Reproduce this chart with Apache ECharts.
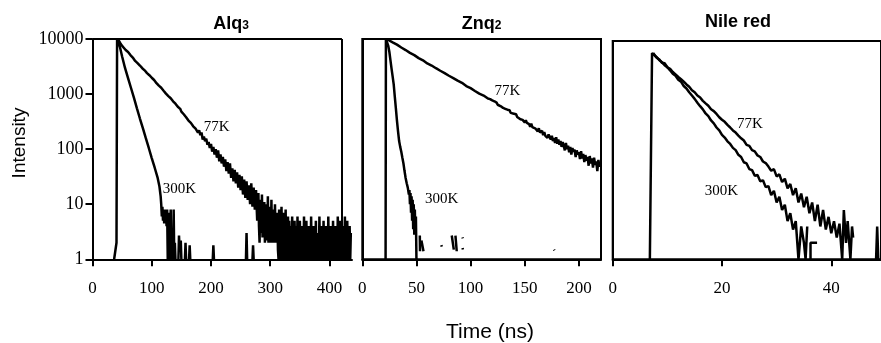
<!DOCTYPE html>
<html><head><meta charset="utf-8">
<script src="https://cdn.jsdelivr.net/npm/echarts@6/dist/echarts.min.js"></script>
<style>html,body{margin:0;padding:0;background:#fff}#c{width:881px;height:343px}</style>
</head><body><div id="c"></div>
<script>
// ---- tick labels ----
const yTicks = [1, 10, 100, 1000, 10000];
const alqTicks = [0, 100, 200, 300, 400];
const znqTicks = [0, 50, 100, 150, 200];
const nileTicks = [0, 20, 40];
const panelTitles = ['Alq', 'Znq', 'Nile red'];
const curveNames = ['77K', '300K'];

// ---- Alq3 ----
const alq300 = [[36.5,1],[40.5,2],[41.5,10000],[43,10000],[46,7400],[50,4800],[55,2950],[60,1950],[65,1290],[70,850],[75,550],[80,360],[85,240],[90,158],[95,105],[100,69],[105,46],[110,30],[113,21],[115,14],[116,10],[117,6],[118,9],[119,5],[120,8],[121,4.5],[122,8],[123,5],[124,7],[125,4],[126,8],[127,1],[128,1],[129,7],[130,1],[131,1],[132,8],[133,1],[134,1],[135,3],[136,1],[137,8],[138,1],[139,2],[140,1],[141,null],[145,1],[146,2.7],[147,1.5],[149,2.2],[150,1],[151,null],[156,1],[157,2],[158,1],[159,null],[163,1],[164,1.8],[165,1],[166,null],[203,1],[204,1.8],[205,1],[206,null],[259,1],[260,3],[261,1],[262,null],[270,1],[271,1.8],[272,1],[273,null]];
const alq77 = [[43,10000],[44,9200],[48,8000],[52,7100],[56,6300],[60,5800],[64,5100],[68,4600],[72,4000],[76,3650],[80,3300],[84,2950],[88,2700],[92,2400],[96,2200],[100,1980],[104,1800],[108,1580],[112,1420],[116,1300],[120,1150],[124,1020],[128,920],[132,840],[136,740],[140,670],[144,590],[148,540],[150,480],[152,470],[154,430],[156,440],[158,380],[160,390],[162,330],[164,350],[166,300],[168,310],[170,260],[172,280],[174,235],[176,250],[178,200],[180,220],[182,180],[184,200],[186,150],[188,170],[190,140],[192,155],[194,120],[196,135],[198,105],[200,125],[202,90],[204,110],[206,80],[208,100],[210,70],[212,95],[214,60],[216,80],[218,55],[220,72],[222,48],[224,65],[226,40],[228,58],[230,36],[232,55],[234,30],[236,45],[238,26],[240,42],[242,24],[244,38],[246,20],[248,34],[250,18],[252,32],[254,15],[256,28],[258,13],[260,26],[262,12],[264,22],[266,10],[268,24],[270,9],[272,20],[274,8],[276,18],[278,5],
[280,16],[281,4],[282,2],[283,12],[284,6],[285,3],[286,15],[287,2.5],[288,9],[289,3],[290,11],[291,2],[292,7],[293,2.2],[294,10],[295,3],[296,14],[297,2],[298,6],[299,2.5],[300,9],[301,2],[302,12],[303,2],[304,5],[305,2],[306,8],[307,3],[308,10],[309,2],[310,6],[311,2],[312,7],[313,1.5],[314,1],[315,8],[316,1],[317,6],[318,1],[319,9],[320,2],[321,1],[322,7],[323,1],[324,5],[325,1],[326,8],[327,1],[328,4],[329,1],[330,6],[331,1],[332,5],[333,1.5],[334,1],[335,4],[336,1],[337,6],[338,1],[339,3],[340,1],[341,5],[342,2],[343,1],[344,4],[345,1],[346,6],[347,1],[348,3],[349,1],[350,5],[351,1.5],[352,1],[353,4],[354,1],[355,3],[356,1],[357,6],[358,1],[359,2],[360,1],[361,5],[362,1],[363,3],[364,1],[365,4],[366,1],[367,2],[368,1],[369,6],[370,1],[371,3],[372,1],[373,4],[374,1],[375,2.5],[376,1],[377,5],[378,1],[379,3],[380,1],[381,2],[382,1],[383,6],[384,1],[385,3],[386,1],[387,4],[388,1.5],[389,1],[390,5],[391,1],[392,2],[393,1],[394,4],[395,1],[396,3],[397,1],[398,6],[399,1],[400,3],[401,1],[402,4],[403,1],[404,2],[405,1],[406,5],[407,1],[408,3],[409,1],[410,4],[411,1],[412,2],[413,1],[414,6],[415,1],[416,3],[417,1],[418,5],[419,1],[420,2],[421,1],[422,4],[423,1],[424,3],[425,1],[426,6],[427,1],[428,2],[429,1],[430,5],[431,1],[432,3],[433,1],[434,4],[435,1],[436,3]];

// ---- Znq2 ----
const znq300 = [[21.5,1],[21.8,10000],[23,9500],[24,7500],[25,5800],[26,4100],[27,2900],[28,2100],[29,1500],[30,900],[31,550],[32,330],[33,210],[34,140],[35,110],[36,90],[37,70],[38,55],[39,40],[40,30],[41,24],[42,20],[43,15],[43.5,18],[44,10],[44.5,16],[45,7],[45.5,14],[46,5],[46.5,12],[47,3.5],[47.5,10],[48,2.8],[48.5,8],[49,3],[49.5,6],[50,1],[51,null],[53.1,2.7],[53.3,1.4],[53.5,null],[54.6,2.2],[56.5,1.4],[57,null],[73,1.8],[73.4,1.7],[73.8,null],[82.6,2.7],[84.5,1.5],[85,null],[86,2.7],[87.2,1.4],[87.6,null],[92.5,2.5],[92.8,2.4],[93,null],[92.6,1.6],[92.9,1.5],[93.2,null],[177,1.5],[177.4,1.45]];
const znq77 = [[22.5,10000],[24,9600],[28,8700],[32,7900],[36,7000],[40,6300],[44,5600],[48,5100],[52,4500],[56,4100],[60,3600],[64,3300],[68,2950],[72,2650],[76,2400],[80,2150],[84,1950],[88,1750],[92,1600],[96,1400],[100,1280],[104,1140],[108,1020],[112,940],[116,830],[117,790],[118,810],[119,760],[120,770],[121,720],[122,740],[123,690],[124,700],[125,640],[126,680],[128,600],[129,620],[130,560],[131,585],[132,540],[134,520],[135,490],[136,510],[137,455],[138,480],[140,440],[141,410],[142,430],[143,385],[144,410],[146,350],[147,380],[148,340],[149,360],[150,305],[151,335],[152,300],[154,285],[155,255],[156,290],[157,250],[158,265],[160,235],[161,255],[162,210],[163,240],[164,200],[166,215],[167,180],[168,205],[169,175],[170,190],[171,160],[172,185],[174,150],[175,175],[176,140],[177,160],[178,130],[179,165],[180,125],[181,150],[182,120],[183,140],[184,110],[185,135],[186,115],[187,95],[188,130],[189,100],[190,115],[191,88],[192,110],[193,80],[194,105],[195,90],[196,98],[197,72],[198,95],[199,80],[200,88],[201,66],[202,92],[203,68],[204,82],[205,58],[206,78],[207,62],[208,72],[209,50],[210,75],[211,55],[212,68],[213,46],[214,70],[215,52],[216,60],[217,40],[218,64],[219,48],[220,58]];

// ---- Nile red ----
const nile300 = [[6.8,1],[7.2,6000],[7.4,6000],[8,5100],[8.5,4500],[9,4100],[9.5,3600],[10,3300],[10.5,2900],[11,2500],[11.5,2300],[12,1950],[12.5,1800],[13,1500],[13.5,1350],[14,1150],[14.5,1000],[15,870],[15.5,740],[16,640],[16.5,560],[17,470],[17.5,420],[18,350],[18.5,310],[19,260],[19.5,230],[20,190],[20.5,170],[21,145],[21.5,130],[22,110],[22.5,100],[23,82],[23.5,75],[24,60],[24.5,57],[25,45],[25.5,43],[26,34],[26.5,35],[27,27],[27.5,28],[28,21],[28.5,22],[29,15],[29.5,18],[30,11],[30.5,14],[31,8],[31.5,10],[32,5],[32.5,7],[33,3.5],[33.5,5],[34,1],[34.5,4],[35,2],[35.3,1],[35.6,4],[36,null],[36.2,1],[36.2,2],[37.4,2],[37.5,null]];
const nile77 = [[7.4,6000],[8,5000],[8.5,4600],[9,4000],[9.5,3900],[10,3300],[10.5,3100],[11,2700],[11.5,2450],[12,2200],[12.5,2000],[13,1800],[13.5,1600],[14,1450],[14.5,1250],[15,1150],[15.5,1000],[16,920],[16.5,800],[17,720],[17.5,650],[18,560],[18.5,520],[19,460],[19.5,400],[20,360],[20.5,330],[21,290],[21.5,260],[22,230],[22.5,210],[23,185],[23.5,165],[24,150],[24.5,125],[25,120],[25.5,100],[26,95],[26.5,80],[27,75],[27.5,62],[28,58],[28.5,50],[29,42],[29.5,45],[30,33],[30.5,36],[31,26],[31.5,30],[32,20],[32.5,24],[33,15],[33.5,20],[34,11],[34.5,16],[35,9],[35.5,14],[36,7],[36.5,11],[37,5],[37.5,10],[38,4],[38.5,8],[39,3.5],[39.5,6],[40,3],[40.5,5],[41,2.5],[41.5,4.5],[42,1],[42.3,8],[42.7,2],[43,5],[43.5,1],[43.8,4],[44,2.5],[44.3,null],[48.2,1],[48.4,4],[48.6,1],[48.8,null]];

const SERIF = 'Liberation Serif, Times New Roman, serif';
const SANS = 'Liberation Sans, Arial, sans-serif';
const BLACK = '#000';

function yAxis(gi, showLabels) {
  return {
    type: 'log', logBase: 10, min: yTicks[0], max: yTicks[yTicks.length - 1], gridIndex: gi,
    axisLine: {show: true, lineStyle: {color: BLACK, width: 2}},
    axisTick: {show: showLabels, inside: false, length: 7, lineStyle: {color: BLACK, width: 2}},
    axisLabel: {show: showLabels, margin: 9, color: BLACK, fontFamily: SERIF, fontSize: 18,
      formatter: v => String(Math.round(v))},
    splitLine: {show: false}, minorTick: {show: false}
  };
}
function xAxis(gi, max, ticks) {
  return {
    type: 'value', min: 0, max: max, gridIndex: gi, interval: ticks[1] - ticks[0],
    axisLine: {show: true, onZero: false, lineStyle: {color: BLACK, width: 2}},
    axisTick: {show: true, inside: false, length: 7, lineStyle: {color: BLACK, width: 2}, customValues: ticks},
    axisLabel: {show: true, margin: 21, color: BLACK, fontFamily: SERIF, fontSize: 17, customValues: ticks,
      formatter: v => String(v)},
    splitLine: {show: false}
  };
}
function curveLabel(x, y, text) {
  return {coord: [x, y], symbol: 'circle', symbolSize: 1, itemStyle: {color: 'rgba(0,0,0,0)'},
    label: {show: true, position: 'inside', formatter: text, color: BLACK, fontFamily: SERIF, fontSize: 15}};
}
function line(data, xi, yi, extra) {
  return Object.assign({
    type: 'line', data: data, xAxisIndex: xi, yAxisIndex: yi, showSymbol: false, symbol: 'none',
    connectNulls: false, smooth: false, animation: false, silent: true,
    lineStyle: {color: BLACK, width: 2.5, join: 'bevel'}, itemStyle: {color: BLACK}
  }, extra || {});
}

const chart = echarts.init(document.getElementById('c'), null, {renderer: 'canvas'});
chart.setOption({
  backgroundColor: '#fff',
  animation: false,
  grid: [
    {left: 92.5, top: 39, width: 259.5, height: 220.3},
    {left: 362.3, top: 39, width: 238.7, height: 220.3, show: true, borderColor: BLACK, borderWidth: 2, backgroundColor: 'transparent'},
    {left: 612.7, top: 41, width: 270, height: 218.3, show: true, borderColor: BLACK, borderWidth: 2, backgroundColor: 'transparent'}
  ],
  xAxis: [xAxis(0, 438, alqTicks), xAxis(1, 220.4, znqTicks), xAxis(2, 49.1, nileTicks)],
  yAxis: [yAxis(0, true), yAxis(1, false), yAxis(2, false)],
  series: [
    line(alq300, 0, 0, {
      markPoint: {silent: true, data: [curveLabel(146.8, 19, curveNames[1])]},
      markLine: {silent: true, symbol: 'none', label: {show: false}, animation: false,
        lineStyle: {color: BLACK, width: 2, type: 'solid'},
        data: [[{coord: [0, 10000]}, {coord: [421, 10000]}], [{coord: [421, 1]}, {coord: [421, 10000]}]]}
    }),
    line(alq77, 0, 0, {markPoint: {silent: true, data: [curveLabel(209.6, 250, curveNames[0])]}}),
    line(znq300, 1, 1, {markPoint: {silent: true, data: [curveLabel(73.3, 12.6, curveNames[1])]}}),
    line(znq77, 1, 1, {markPoint: {silent: true, data: [curveLabel(134, 1140, curveNames[0])]}}),
    line(nile300, 2, 2, {markPoint: {silent: true, data: [curveLabel(19.9, 17.7, curveNames[1])]}}),
    line(nile77, 2, 2, {markPoint: {silent: true, data: [curveLabel(25.1, 300, curveNames[0])]}})
  ],
  graphic: [
    {type: 'text', x: 231, y: 24, style: {text: '{m|' + panelTitles[0] + '}{s|3}', align: 'center', verticalAlign: 'middle',
      rich: {m: {fontFamily: SANS, fontWeight: 'bold', fontSize: 18, fill: BLACK, verticalAlign: 'bottom'},
             s: {fontFamily: SANS, fontWeight: 'bold', fontSize: 12, fill: BLACK, verticalAlign: 'bottom', padding: [0,0,1,0]}}}},
    {type: 'text', x: 481.7, y: 24, style: {text: '{m|' + panelTitles[1] + '}{s|2}', align: 'center', verticalAlign: 'middle',
      rich: {m: {fontFamily: SANS, fontWeight: 'bold', fontSize: 18, fill: BLACK, verticalAlign: 'bottom'},
             s: {fontFamily: SANS, fontWeight: 'bold', fontSize: 12, fill: BLACK, verticalAlign: 'bottom', padding: [0,0,1,0]}}}},
    {type: 'text', x: 738, y: 22, style: {text: panelTitles[2], align: 'center', verticalAlign: 'middle',
      fontFamily: SANS, fontWeight: 'bold', fontSize: 18, fill: BLACK}},
    {type: 'text', x: 490, y: 332, style: {text: 'Time (ns)', align: 'center', verticalAlign: 'middle',
      fontFamily: SANS, fontSize: 21, fill: BLACK}},
    {type: 'text', x: 20, y: 143, rotation: Math.PI / 2, style: {text: 'Intensity', align: 'center', verticalAlign: 'middle',
      fontFamily: SANS, fontSize: 19, fill: BLACK}}
  ]
});
</script>
</body></html>
